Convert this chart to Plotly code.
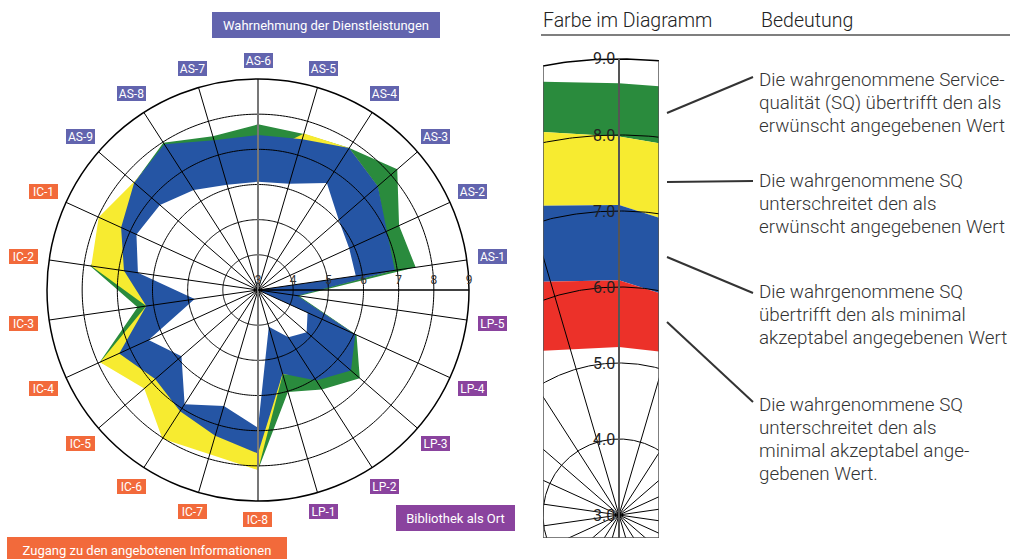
import numpy as np
import plotly.graph_objects as go

# ---------------- data ----------------
categories = ["AS-1", "AS-2", "AS-3", "AS-4", "AS-5", "AS-6", "AS-7", "AS-8", "AS-9",
              "IC-1", "IC-2", "IC-3", "IC-4", "IC-5", "IC-6", "IC-7", "IC-8",
              "LP-1", "LP-2", "LP-3", "LP-4", "LP-5"]
groups = ["AS"] * 9 + ["IC"] * 8 + ["LP"] * 5

# inner edge of the coloured ring (minimum acceptable level)
minimum = [5.81, 5.85, 6.04, 6.62, 6.15, 6.08, 6.12, 6.38, 6.69,
           6.80, 6.45, 4.82, 6.42, 5.88, 6.86, 6.44, 6.92,
           4.09, 4.60, 4.83, 4.55, 3.00]
# outer edge of the blue area
blue_outer = [6.93, 7.03, 7.51, 7.80, 7.47, 7.41, 7.44, 7.93, 7.66,
              7.28, 6.85, 6.21, 7.34, 6.87, 7.10, 7.32, 7.65,
              5.48, 6.06, 6.50, 6.04, 4.13]
# outer edge of the yellow area
yellow_outer = [6.90, 7.00, 7.50, 7.80, 7.64, 6.80, 7.20, 7.85, 7.68,
                7.98, 7.79, 6.21, 7.94, 7.28, 8.03, 7.87, 8.12,
                5.50, 5.90, 6.40, 6.00, 4.10]
# outer edge of the green area
green_outer = [7.53, 7.41, 8.24, 7.80, 7.62, 7.71, 7.56, 7.98, 7.66,
               7.20, 7.82, 6.46, 7.95, 7.00, 7.50, 7.50, 8.12,
               6.02, 6.36, 6.83, 6.08, 4.18]
radial_ticks = [3, 4, 5, 6, 7, 8, 9]

# legend inset: band edges (value at left edge, at spoke, at right edge)
inset_green_top = [8.70, 8.68, 8.64]
inset_green_bottom = [8.04, 7.98, 7.89]
inset_yellow_bottom = [7.07, 7.08, 6.91]
inset_blue_bottom = [6.07, 6.09, 5.92]
inset_red_bottom = [5.16, 5.21, 5.15]
inset_ticks = [3.0, 4.0, 5.0, 6.0, 7.0, 8.0, 9.0]

legend_texts = [
    ["Die wahrgenommene Service-", "qualität (SQ) übertrifft den als", "erwünscht angegebenen Wert"],
    ["Die wahrgenommene SQ", "unterschreitet den als", "erwünscht angegebenen Wert"],
    ["Die wahrgenommene SQ", "übertrifft den als minimal", "akzeptabel angegebenen Wert"],
    ["Die wahrgenommene SQ", "unterschreitet den als", "minimal akzeptabel ange-", "gebenen Wert."],
]

# ---------------- style ----------------
W, H = 1010, 559
FONT = "Roboto, 'DejaVu Sans', sans-serif"
GREEN, YELLOW, BLUE, RED = "#2A8B3D", "#F7EB30", "#2555A4", "#EC3129"
GROUP_COLORS = {"AS": "#6264AE", "IC": "#F26A3B", "LP": "#8A439E"}
CX, CY, R = 258, 290, 211          # polar centre and radius (px)

n = len(categories)
step = 360.0 / n
theta = [step / 2 + i * step for i in range(n)]

fig = go.Figure()


def ring(vals, color):
    fig.add_trace(go.Scatterpolar(
        r=list(vals) + [vals[0]], theta=theta + [theta[0]],
        mode="lines", fill="toself", fillcolor=color,
        line=dict(width=0, color=color), hoverinfo="skip", showlegend=False))


ring(green_outer, GREEN)
ring(yellow_outer, YELLOW)
ring(blue_outer, BLUE)
ring(minimum, "white")

# grid drawn on top of the areas
circ_t = list(np.arange(0, 361, 1.0))
for v in radial_ticks[1:-1]:
    fig.add_trace(go.Scatterpolar(r=[v] * len(circ_t), theta=circ_t, mode="lines",
                                  line=dict(color="black", width=1), hoverinfo="skip",
                                  showlegend=False))
sp_r, sp_t, vr_r, vr_t = [], [], [], []
for t in theta:
    if abs((t % 180) - 90) < 1e-6:
        vr_r += [radial_ticks[0], radial_ticks[-1], None]
        vr_t += [t, t, None]
    else:
        sp_r += [radial_ticks[0], radial_ticks[-1], None]
        sp_t += [t, t, None]
fig.add_trace(go.Scatterpolar(r=sp_r, theta=sp_t, mode="lines",
                              line=dict(color="black", width=1), hoverinfo="skip",
                              showlegend=False))
fig.add_trace(go.Scatterpolar(r=vr_r, theta=vr_t, mode="lines",
                              line=dict(color="#777777", width=2), hoverinfo="skip",
                              showlegend=False))

fig.update_layout(
    polar=dict(
        domain=dict(x=[(CX - R) / W, (CX + R) / W], y=[(H - CY - R) / H, (H - CY + R) / H]),
        bgcolor="white",
        radialaxis=dict(range=[radial_ticks[0], radial_ticks[-1]], tickvals=radial_ticks,
                        showgrid=False, showline=True, linecolor="black", linewidth=1.5,
                        angle=0, side="counterclockwise", ticks="",
                        tickfont=dict(size=12, color="#333333", family=FONT),
                        layer="above traces"),
        angularaxis=dict(direction="counterclockwise", rotation=0, showgrid=False,
                         showticklabels=False, ticks="", showline=True,
                         linecolor="black", linewidth=1.5, layer="above traces"),
    )
)

# category label boxes
for i, cat in enumerate(categories):
    a = np.deg2rad(theta[i])
    rl = 229 + 8 * abs(np.cos(a))
    px = CX + rl * np.cos(a)
    py = CY - rl * np.sin(a)
    fig.add_annotation(x=px / W, y=1 - py / H, xref="paper", yref="paper", text=cat,
                       showarrow=False, bgcolor=GROUP_COLORS[groups[i]], borderpad=1,
                       borderwidth=0, width=27, height=13,
                       font=dict(color="white", size=12, family=FONT),
                       xanchor="center", yanchor="middle")

# group title boxes
for txt, cx, cy, w, col in [("Wahrnehmung der Dienstleistungen", 326, 25, 220, GROUP_COLORS["AS"]),
                            ("Bibliothek als Ort", 455.5, 518, 111, GROUP_COLORS["LP"]),
                            ("Zugang zu den angebotenen Informationen", 147, 550, 272, GROUP_COLORS["IC"])]:
    fig.add_annotation(x=cx / W, y=1 - cy / H, xref="paper", yref="paper", text=txt,
                       showarrow=False, bgcolor=col, borderpad=4, borderwidth=0,
                       width=w, height=18, font=dict(color="white", size=13, family=FONT),
                       xanchor="center", yanchor="middle")

# ---------------- legend inset (cartesian, score units) ----------------
S = 76.0                     # px per unit
IX0, IX1, ISPOKE, ICY = 543, 659, 619, 515
ITOP, IBOT = 55, 538
XL, XR = (IX0 - ISPOKE) / S, (IX1 - ISPOKE) / S
YB, YT = 3 + (ICY - IBOT) / S, 3 + (ICY - ITOP) / S
xs3 = [XL, 0.0, XR]


def band(top, bottom, color):
    fig.add_trace(go.Scatter(x=xs3 + xs3[::-1], y=list(top) + list(bottom)[::-1],
                             mode="lines", fill="toself", fillcolor=color,
                             line=dict(width=0, color=color), hoverinfo="skip",
                             showlegend=False, xaxis="x", yaxis="y"))


band(inset_green_top, inset_green_bottom, GREEN)
band(inset_green_bottom, inset_yellow_bottom, YELLOW)
band(inset_yellow_bottom, inset_blue_bottom, BLUE)
band(inset_blue_bottom, inset_red_bottom, RED)

tt = np.linspace(0, 2 * np.pi, 721)
for v in inset_ticks[1:]:
    rr = v - inset_ticks[0]
    fig.add_trace(go.Scatter(x=rr * np.cos(tt), y=inset_ticks[0] + rr * np.sin(tt), mode="lines",
                             line=dict(color="black", width=1.5 if v == inset_ticks[-1] else 1),
                             hoverinfo="skip", showlegend=False, xaxis="x", yaxis="y"))
rmax = inset_ticks[-1] - inset_ticks[0]
isx, isy, ivx, ivy = [], [], [], []
for k in range(n):
    a = np.deg2rad(90 + k * step)
    xe, ye = rmax * np.cos(a), inset_ticks[0] + rmax * np.sin(a)
    if abs(np.cos(a)) < 1e-6:
        ivx += [0, xe, None]
        ivy += [inset_ticks[0], ye, None]
    else:
        isx += [0, xe, None]
        isy += [inset_ticks[0], ye, None]
fig.add_trace(go.Scatter(x=isx, y=isy, mode="lines", line=dict(color="black", width=1),
                         hoverinfo="skip", showlegend=False, xaxis="x", yaxis="y"))
fig.add_trace(go.Scatter(x=ivx, y=ivy, mode="lines", line=dict(color="#555555", width=2),
                         hoverinfo="skip", showlegend=False, xaxis="x", yaxis="y"))
# border of the inset (sides + bottom)
yl = inset_ticks[0] + np.sqrt(rmax ** 2 - XL ** 2)
yr = inset_ticks[0] + np.sqrt(rmax ** 2 - XR ** 2)
fig.add_trace(go.Scatter(x=[XL, XL, XR, XR], y=[yl, YB, YB, yr], mode="lines",
                         line=dict(color="#555555", width=1.5), cliponaxis=False,
                         hoverinfo="skip", showlegend=False, xaxis="x", yaxis="y"))
for v in inset_ticks:
    fig.add_annotation(x=-0.2, y=v, xref="x", yref="y", text=f"{v:.1f}", showarrow=False,
                       font=dict(size=16, color="#222222", family=FONT),
                       xanchor="center", yanchor="middle")

fig.update_layout(
    xaxis=dict(domain=[IX0 / W, IX1 / W], range=[XL, XR], visible=False, fixedrange=True),
    yaxis=dict(domain=[(H - IBOT) / H, (H - ITOP) / H], range=[YB, YT], visible=False,
               fixedrange=True),
)

# ---------------- right-hand explanation ----------------
for txt, x in [("Farbe im Diagramm", 541), ("Bedeutung", 759)]:
    fig.add_annotation(x=x / W, y=1 - 20 / H, xref="paper", yref="paper", text=txt,
                       showarrow=False, xanchor="left", yanchor="middle",
                       font=dict(size=19.5, color="#222222", family=FONT, weight=300))
fig.add_shape(type="line", xref="paper", yref="paper", x0=541 / W, x1=1.0,
              y0=1 - 35 / H, y1=1 - 35 / H, line=dict(color="#555555", width=1.5))

para_y = [80, 181, 292, 405]
for lines, y0 in zip(legend_texts, para_y):
    for j, ln in enumerate(lines):
        fig.add_annotation(x=757 / W, y=1 - (y0 + 23 * j) / H, xref="paper", yref="paper",
                           text=ln, showarrow=False, xanchor="left", yanchor="middle",
                           font=dict(size=18.8, color="#333333", family=FONT, weight=300))

for (x0, y0, x1, y1) in [(667, 113, 753, 77), (667, 182, 753, 181),
                         (667, 257, 753, 293), (667, 322, 753, 402)]:
    fig.add_shape(type="line", xref="paper", yref="paper", x0=x0 / W, y0=1 - y0 / H,
                  x1=x1 / W, y1=1 - y1 / H, line=dict(color="#333333", width=2))

fig.update_layout(width=W, height=H, margin=dict(l=0, r=0, t=0, b=0),
                  paper_bgcolor="white", plot_bgcolor="white", showlegend=False)

fig.write_html("out.html", config={"displayModeBar": False},
               post_script="document.body.style.margin='0px';")
